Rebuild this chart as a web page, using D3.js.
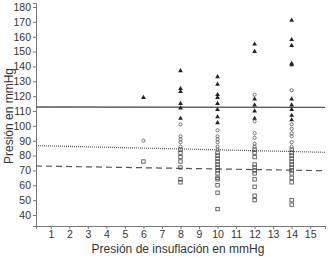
<!DOCTYPE html>
<html><head><meta charset="utf-8">
<script src="https://cdn.jsdelivr.net/npm/d3@7"></script>
<style>body{margin:0;background:#fff}svg{display:block}</style>
</head><body>
<script>
// Data
const categories = [6, 8, 10, 12, 14];
const xTicks = [1,2,3,4,5,6,7,8,9,10,11,12,13,14,15];
const yTicks = [40,50,60,70,80,90,100,110,120,130,140,150,160,170,180];
const triangleVals = [
  [119],
  [137, 125, 123, 115, 112, 105],
  [133, 128, 121, 119, 115, 111, 106, 102],
  [155, 150, 118, 114, 110, 105],
  [171, 158, 154, 142, 141, 118, 114, 111, 107, 104]
];
const circleVals = [
  [90],
  [101, 93, 91, 89, 86],
  [97, 93, 91, 89, 86, 84],
  [121, 103, 95, 92, 88, 86],
  [124, 101, 98, 95, 93, 89, 86]
];
const squareVals = [
  [76],
  [84, 82, 79, 76, 72, 64, 62],
  [82, 80, 78, 76, 74, 72, 70, 68, 65, 64, 60, 55, 44],
  [84, 82, 79, 74, 72, 70, 68, 64, 59, 53, 50],
  [84, 82, 80, 78, 76, 74, 72, 70, 68, 65, 62, 50, 47]
];
const solidLine = [112.7, 112.5];
const dottedLine = [86.7, 82.2];
const dashedLine = [73.0, 69.8];

const W = 332, H = 257;
const svg = d3.select("body").append("svg").attr("width", W).attr("height", H);
const x = d3.scaleLinear().domain([0.2, 15.8]).range([36, 325]);
const y = d3.scaleLinear().domain([32.6, 182.7]).range([226, 3]);

const font = "Liberation Sans, Arial, sans-serif";
const ink = "#333";

// axes
const gx = svg.append("g").attr("transform", "translate(0,226)")
  .call(d3.axisBottom(x).tickValues(xTicks).tickSize(3).tickPadding(2).tickFormat(d3.format("d")));
const gy = svg.append("g").attr("transform", "translate(36,0)")
  .call(d3.axisLeft(y).tickValues(yTicks).tickSize(3).tickPadding(2).tickFormat(d3.format("d")));
[gx, gy].forEach(g => {
  g.selectAll("path.domain").attr("stroke", "#777").attr("stroke-width", 1);
  g.selectAll(".tick line").attr("stroke", "#777");
  g.selectAll(".tick text").attr("fill", ink).style("font-family", font).style("font-size", "10.5px");
});

// reference lines
const x0 = x.domain()[0], x1 = x.domain()[1];
function refLine(vals, dash, w, col) {
  svg.append("line").attr("x1", x(x0)).attr("x2", x(x1))
    .attr("y1", y(vals[0])).attr("y2", y(vals[1]))
    .attr("stroke", col).attr("stroke-width", w)
    .attr("stroke-dasharray", dash);
}
refLine(solidLine, null, 1.3, "#555");
refLine(dottedLine, "1,1", 1.2, "#555");
refLine(dashedLine, "6,4", 1.2, "#555");

// markers
const pts = (arr) => arr.flatMap((vals, i) => vals.map(v => ({c: categories[i], v})));
const gm = svg.append("g");
gm.selectAll("rect.sq").data(pts(squareVals)).join("rect")
  .attr("x", d => x(d.c) - 1.7).attr("y", d => y(d.v) - 1.7)
  .attr("width", 3.4).attr("height", 3.4)
  .attr("fill", "none").attr("stroke", "#444").attr("stroke-width", 0.8);
gm.selectAll("circle.ci").data(pts(circleVals)).join("circle")
  .attr("cx", d => x(d.c)).attr("cy", d => y(d.v)).attr("r", 1.6)
  .attr("fill", "none").attr("stroke", "#555").attr("stroke-width", 0.8);
const tri = d3.symbol().type(d3.symbolTriangle).size(10);
gm.selectAll("path.tr").data(pts(triangleVals)).join("path")
  .attr("d", tri).attr("transform", d => `translate(${x(d.c)},${y(d.v)})`)
  .attr("fill", "#222");

// titles
svg.append("text").attr("x", 178).attr("y", 253).attr("text-anchor", "middle")
  .attr("fill", ink).style("font-family", font).style("font-size", "12px")
  .text("Presión de insuflación en mmHg");
svg.append("text").attr("transform", "translate(13,116) rotate(-90)").attr("text-anchor", "middle")
  .attr("fill", ink).style("font-family", font).style("font-size", "12px")
  .text("Presión en mmHg");
</script>
</body></html>
